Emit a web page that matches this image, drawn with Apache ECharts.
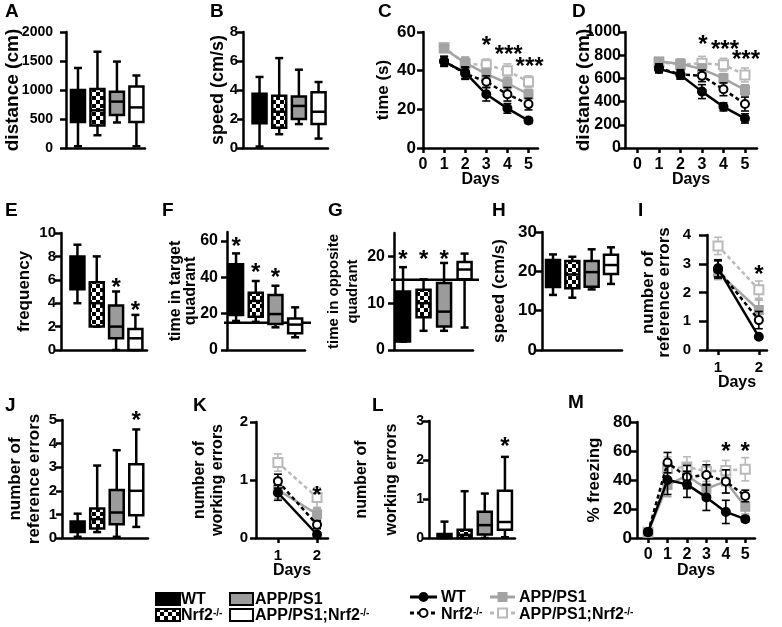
<!DOCTYPE html>
<html><head><meta charset="utf-8">
<script src="https://cdn.jsdelivr.net/npm/echarts@6/dist/echarts.min.js"></script>
<style>html,body{margin:0;padding:0;background:#fff}#c{width:782px;height:627px}</style>
</head><body><div id="c"></div>
<script>
const FONT = '"Liberation Sans", Arial, Helvetica, sans-serif';

// ---------------- data ----------------
const groups = ['WT', 'Nrf2-/-', 'APP/PS1', 'APP/PS1;Nrf2-/-'];
// box plots: [min, Q1, median, Q3, max] for each group
const boxA = [[30,450,750,1000,1380],[220,390,650,1017,1660],[440,570,800,970,1490],[30,450,700,1060,1250]];
const boxB = [[0.1,1.7,2.8,3.75,4.9],[0.95,1.4,2.5,3.6,6.2],[1.65,2.0,2.9,3.55,5.4],[0.65,1.65,2.5,3.85,4.55]];
const boxE = [[4,5.2,6.5,8,9],[2,2,4,5.8,8],[0,1,2,3.8,5],[0,0,1,1.8,3]];
const boxF = [[16,19.3,35,47.2,53.2],[15.5,18.3,27,31.5,38],[12.5,14.3,19.8,30.3,35.4],[7,9.2,14,17.4,23.5]];
const boxG = [[1.8,1.8,7,12.5,17.7],[4.1,7,10,12.9,15.1],[4.1,5,8.2,14.3,18.6],[4.8,15.1,17.2,18.8,20.6]];
const boxH = [[14,16,19.5,22.9,24.3],[13.3,15.7,19.2,22.6,23.7],[15.4,16.1,19.8,22.6,25.6],[16.8,19.3,21.6,24.2,26.1]];
const boxJ = [[0.05,0.25,0.45,0.7,1.03],[0.25,0.4,0.8,1.25,3.07],[0.05,0.58,1.08,2.03,3.72],[0.47,0.96,2.0,3.13,4.6]];
const boxL = [[0,0,0.05,0.1,0.42],[0,0,0.08,0.21,1.2],[0,0.09,0.33,0.67,1.14],[0.02,0.21,0.41,1.21,2.08]];
const chanceF = 15, chanceG = 15;

// line plots: mean and SEM, rows = groups
const days5 = [1,2,3,4,5];
const cMean = [[44.7,39,27.8,20.5,14.2],[45,38.5,34.3,27.8,22.7],[51.5,44,38.3,33.5,27.8],[52,43.5,43,40,34.3]];
const cErr  = [[2.5,3,3.5,2.5,1.5],[2.5,3,3,3.5,3],[2,3,3,3,2.5],[2,3.5,3,3.5,3]];
const dMean = [[682,630,486,355,255],[690,635,622,506,379],[746,726,680,601,500],[740,720,730,718,630]];
const dErr  = [[35,35,60,35,40],[35,40,50,55,60],[25,40,45,40,45],[25,45,60,55,60]];
const days2 = [1,2];
const iMean = [[2.84,0.46],[2.8,1.04],[2.7,1.39],[3.62,2.1]];
const iErr  = [[0.3,0.07],[0.3,0.3],[0.25,0.35],[0.3,0.3]];
const kMean = [[0.78,0.06],[0.98,0.23],[0.83,0.41],[1.3,0.7]];
const kErr  = [[0.13,0.04],[0.12,0.07],[0.15,0.1],[0.15,0.17]];
const days6 = [0,1,2,3,4,5];
const mMean = [[4.2,40,37,28,18,13],[4,52,42,43.5,39,29],[4,36.5,43,34,39,21.5],[4,48,49,46,46.5,47.4]];
const mErr  = [[2,10,9,9,8,2],[2,7,8,7,8,4],[2,8,8,8,8,5],[2,8,7,7,7,8]];

// significance marks [x, y, text]
const starsC = [[3,55,'*'],[4.06,50.3,'***'],[5.05,44.3,'***']];
const starsD = [[3.05,925,'*'],[4.07,882,'***'],[5.05,795,'***']];
const starsE = [[3,5.7,'*'],[4,3.7,'*']];
const starsF = [[1,59.4,'*'],[2,45,'*'],[3,42.4,'*']];
const starsG = [[1,20.2,'*'],[2,20.2,'*'],[3,20.2,'*']];
const starsI = [[2,2.78,'*']];
const starsJ = [[4,5.17,'*']];
const starsK = [[2,0.81,'*']];
const starsL = [[4,2.46,'*']];
const starsM = [[4,62.8,'*'],[5,62.8,'*']];

// tick labels
const ticksA = [0,500,1000,1500,2000];
const ticksB = [0,2,4,6,8];
const ticksC = [0,20,40,60];
const ticksD = [0,200,400,600,800,1000];
const ticksE = [0,2,4,6,8,10];
const ticksF = [0,20,40,60];
const ticksG = [0,10,20];
const ticksH = [0,10,20,30];
const ticksI = [0,1,2,3,4];
const ticksJ = [0,1,2,3,4,5];
const ticksK = [0,1,2];
const ticksL = [0,1,2,3];
const ticksM = [0,20,40,60,80];
const dayTicks6 = [0,1,2,3,4,5];
const dayTicks2 = [1,2];

// ---------------- styles ----------------
const pat = document.createElement('canvas');
pat.width = 8; pat.height = 8;
(function(){ const c = pat.getContext('2d'); c.fillStyle = '#000'; c.fillRect(0,0,8,8);
  c.fillStyle = '#fff'; c.fillRect(0,0,4,4); c.fillRect(4,4,4,4); })();
const boxFills = ['#000', {image: pat, repeat: 'repeat'}, '#9b9b9b', '#fff'];
const lineStyles = [
  {color:'#000', dash:'solid', symbol:'circle', fill:'#000', size:8},
  {color:'#000', dash:[4,3], symbol:'circle', fill:'#fff', size:8},
  {color:'#a3a3a3', dash:'solid', symbol:'rect', fill:'#a3a3a3', size:8},
  {color:'#b9b9b9', dash:[4,3], symbol:'rect', fill:'#fff', size:9}
];
const txt = o => Object.assign({color:'#000', fontWeight:'bold', fontFamily:FONT}, o);

const grids = [], xAxes = [], yAxes = [], series = [], graphics = [];

function boxRender(params, api) {
  const x = api.value(0), g = api.value(6);
  const pMin = api.coord([x, api.value(1)]), pQ1 = api.coord([x, api.value(2)]);
  const pMed = api.coord([x, api.value(3)]), pQ3 = api.coord([x, api.value(4)]);
  const pMax = api.coord([x, api.value(5)]);
  const cx = pMed[0], bw = 14, cw = 4, lw = 2.5;
  const st = () => ({stroke:'#000', lineWidth:lw});
  return {type:'group', children:[
    {type:'line', shape:{x1:cx,y1:pMax[1],x2:cx,y2:pQ3[1]}, style:st()},
    {type:'line', shape:{x1:cx,y1:pMin[1],x2:cx,y2:pQ1[1]}, style:st()},
    {type:'line', shape:{x1:cx-cw,y1:pMax[1],x2:cx+cw,y2:pMax[1]}, style:st()},
    {type:'line', shape:{x1:cx-cw,y1:pMin[1],x2:cx+cw,y2:pMin[1]}, style:st()},
    {type:'rect', shape:{x:cx-bw/2, y:pQ3[1], width:bw, height:Math.max(pQ1[1]-pQ3[1],0.5)},
      style:{fill:boxFills[g], stroke:'#000', lineWidth:lw}},
    {type:'line', shape:{x1:cx-bw/2,y1:pMed[1],x2:cx+bw/2,y2:pMed[1]}, style:st()}
  ]};
}
function errRender(color) {
  return function(params, api) {
    const x = api.value(0), y = api.value(1), e = api.value(2);
    const hi = api.coord([x, y+e]), lo = api.coord([x, y-e]), w = 4;
    const st = () => ({stroke:color, lineWidth:1.6});
    return {type:'group', children:[
      {type:'line', shape:{x1:hi[0],y1:hi[1],x2:lo[0],y2:lo[1]}, style:st()},
      {type:'line', shape:{x1:hi[0]-w,y1:hi[1],x2:hi[0]+w,y2:hi[1]}, style:st()},
      {type:'line', shape:{x1:lo[0]-w,y1:lo[1],x2:lo[0]+w,y2:lo[1]}, style:st()}
    ]};
  };
}
function refRender(params, api) {
  const p = api.coord([api.value(0), api.value(1)]);
  const cs = params.coordSys;
  return {type:'line', shape:{x1:cs.x-3, y1:p[1], x2:cs.x+cs.width+6, y2:p[1]}, style:{stroke:'#000', lineWidth:2.5}};
}
function starSeries(i, list) {
  return {type:'custom', xAxisIndex:i, yAxisIndex:i, silent:true, z:5,
    data: list.map(s => [s[0], s[1]]),
    renderItem: function(params, api) {
      const p = api.coord([api.value(0), api.value(1)]);
      return {type:'text', x:p[0], y:p[1]+5, style:{text:list[params.dataIndex][2], fontSize:24,
        fontWeight:'bold', fontFamily:FONT, fill:'#000', align:'center', verticalAlign:'middle'}};
    }};
}
function addGrid(r) {
  const i = grids.length;
  grids.push({left:r[0], top:r[1], width:r[2], height:r[3], containLabel:false, outerBoundsMode:'none'});
  return i;
}
function addY(i, ymax, ticks, name, o) {
  yAxes.push({gridIndex:i, type:'value', min:0, max:ymax,
    axisLine:{show:true, onZero:false, lineStyle:{color:'#000', width:2.5}},
    axisTick:{show:true, length:o.tl || 6, customValues:ticks, lineStyle:{color:'#000', width:2.5}},
    axisLabel:txt({fontSize:o.ls, margin:o.lm, customValues:ticks, formatter:v => String(v)}),
    splitLine:{show:false},
    name:name, nameLocation:'middle', nameRotate:90, nameGap:o.ng, nameMoveOverlap:false,
    nameTextStyle:txt({fontSize:o.ns, lineHeight:o.lh || o.ns})});
}
function boxPanel(r, xr, ymax, ticks, name, o, boxes, stars, ref) {
  const i = addGrid(r);
  xAxes.push({gridIndex:i, type:'value', min:xr[0], max:xr[1],
    axisLine:{show:true, onZero:false, lineStyle:{color:'#000', width:2.5}},
    axisTick:{show:false}, axisLabel:{show:false}, splitLine:{show:false}});
  addY(i, ymax, ticks, name, o);
  if (ref != null) series.push({type:'custom', xAxisIndex:i, yAxisIndex:i, silent:true, z:1,
    data:[[xr[0], ref]], renderItem:refRender});
  series.push({type:'custom', xAxisIndex:i, yAxisIndex:i, silent:true, z:2,
    data: boxes.map((b,k) => [k+1].concat(b, [k])), renderItem:boxRender});
  if (stars) series.push(starSeries(i, stars));
}
function linePanel(r, xr, xticks, ymax, ticks, name, o, days, means, errs, stars) {
  const i = addGrid(r);
  xAxes.push({gridIndex:i, type:'value', min:xr[0], max:xr[1],
    axisLine:{show:true, onZero:false, lineStyle:{color:'#000', width:2.5}},
    axisTick:{show:true, length:5, customValues:xticks, lineStyle:{color:'#000', width:2.5}},
    axisLabel:txt({fontSize:o.xls || 16, margin:o.xlm || 9, customValues:xticks, formatter:v => String(v)}),
    splitLine:{show:false},
    name:'Days', nameLocation:'middle', nameGap:o.xng || 23, nameMoveOverlap:false, nameTextStyle:txt({fontSize:16})});
  addY(i, ymax, ticks, name, o);
  [3,2,1,0].forEach((k, n) => {
    const s = lineStyles[k];
    series.push({type:'custom', xAxisIndex:i, yAxisIndex:i, silent:true, z:3+n*0.01,
      data: days.map((d,j) => [d, means[k][j], errs[k][j]]), renderItem:errRender(s.color)});
    series.push({type:'line', name:groups[k], xAxisIndex:i, yAxisIndex:i, silent:true, z:3+n*0.01,
      data: days.map((d,j) => [d, means[k][j]]), symbol:s.symbol, symbolSize:s.size, showSymbol:true,
      clip:false, lineStyle:{color:s.color, width:2.5, type:s.dash},
      itemStyle:{color:s.fill, borderColor:s.color, borderWidth:2}});
  });
  if (stars) series.push(starSeries(i, stars));
}

// ---------------- panels ----------------
boxPanel([66,32,79,116], [0.385,4.44], 2000, ticksA, 'distance (cm)', {ls:14, lm:13, ns:19, ng:44}, boxA);
boxPanel([243,32,85,116], [0.16,4.48], 8, ticksB, 'speed (cm/s)', {ls:15, lm:5, ns:18, ng:16}, boxB);
linePanel([423,32,115,116], [0,5.45], dayTicks6, 60, ticksC, 'time (s)', {ls:17, lm:7, ns:17, ng:31, xls:16, xlm:9, xng:24}, days5, cMean, cErr, starsC);
linePanel([625,32,132,116], [-0.58,5.56], dayTicks6, 1000, ticksD, 'distance (cm)', {ls:16, lm:4, ns:19, ng:32, xls:16, xlm:9, xng:24}, days5, dMean, dErr, starsD);

boxPanel([61,233,86,117], [0.15,4.6], 10, ticksE, 'frequency', {ls:15, lm:5, ns:17, ng:28}, boxE, starsE);
boxPanel([227,232,78,118], [0.54,4.5], 65, ticksF, 'time in target\nquadrant', {ls:16, lm:9, ns:16, ng:29, lh:15}, boxF, starsF, chanceF);
boxPanel([394,233,79,117], [0.56,4.41], 25, ticksG, 'time in opposite\nquadrant', {ls:16, lm:9, ns:15, ng:32, lh:19}, boxG, starsG, chanceG);
boxPanel([542,232,80,118], [0.43,4.57], 30, ticksH, 'speed (cm/s)', {ls:17, lm:5, ns:17, ng:34}, boxH);
linePanel([707,235,60,115], [0.73,2.2], dayTicks2, 4, ticksI, 'number of\nreference errors', {ls:15, lm:16, tl:8, ns:17, ng:35, lh:16, xls:15, xlm:10, xng:25}, days2, iMean, iErr, starsI);

boxPanel([62,420,86,118], [0.2,4.6], 5, ticksJ, 'number of\nreference errors', {ls:15, lm:5, ns:17, ng:18, lh:19}, boxJ, starsJ);
linePanel([256,422,72,116], [0.44,2.28], dayTicks2, 2, ticksK, 'number of\nworking errors', {ls:15, lm:8, ns:16, ng:29, lh:18, xls:15, xlm:10, xng:25}, days2, kMean, kErr, starsK);
boxPanel([429,421,86,117], [0.23,4.5], 3, ticksL, 'number of\nworking errors', {ls:14, lm:5, ns:16, ng:22, lh:30}, boxL, starsL);
linePanel([637,422,118,116], [-0.57,5.5], dayTicks6, 80, ticksM, '% freezing', {ls:17, lm:5, ns:17, ng:34, xls:16, xlm:9, xng:25}, days6, mMean, mErr, starsM);

// ---------------- panel letters ----------------
const letters = [['A',5,2],['B',210,2],['C',378,2],['D',572,2],['E',5,201],['F',162,201],['G',328,201],
  ['H',492,201],['I',638,201],['J',5,396],['K',193,396],['L',372,396],['M',568,393]];
letters.forEach(l => graphics.push({type:'text', x:l[1], y:l[2], silent:true,
  style:{text:l[0], fontSize:19, fontWeight:'bold', fontFamily:FONT, fill:'#000', align:'left', verticalAlign:'top'}}));

// ---------------- legends ----------------
const supRich = {s:{fontSize:10, fontWeight:'bold', fontFamily:FONT, fill:'#000', verticalAlign:'top'}};
function lgText(x, y, t) {
  graphics.push({type:'text', x:x, y:y, silent:true, style:{text:t, fontSize:16, fontWeight:'bold',
    fontFamily:FONT, fill:'#000', align:'left', verticalAlign:'middle', rich:supRich}});
}
function lgRect(x, y, w, h, fill) {
  graphics.push({type:'rect', silent:true, shape:{x:x, y:y, width:w, height:h}, style:{fill:fill, stroke:'#000', lineWidth:2}});
}
const legendLabels = ['WT', 'Nrf2{s|-/-}', 'APP/PS1', 'APP/PS1;Nrf2{s|-/-}'];
lgRect(156,593,24,12,boxFills[0]); lgText(181,600,legendLabels[0]);
lgRect(230,593,23,12,boxFills[2]); lgText(255,600,legendLabels[2]);
lgRect(156,609,24,12,boxFills[1]); lgText(181,616,legendLabels[1]);
lgRect(230,609,23,12,boxFills[3]); lgText(255,616,legendLabels[3]);

function lgLine(x1, x2, y, k) {
  const s = lineStyles[k];
  graphics.push({type:'line', silent:true, shape:{x1:x1, y1:y, x2:x2, y2:y},
    style:{stroke:s.color, lineWidth:3, lineDash: s.dash === 'solid' ? null : [4,3]}});
  const cx = (x1+x2)/2;
  if (s.symbol === 'circle') graphics.push({type:'circle', silent:true, shape:{cx:cx, cy:y, r:s.size/2},
    style:{fill:s.fill, stroke:s.color, lineWidth:2}});
  else graphics.push({type:'rect', silent:true, shape:{x:cx-s.size/2, y:y-s.size/2, width:s.size, height:s.size},
    style:{fill:s.fill, stroke:s.color, lineWidth:2}});
}
lgLine(410,437,597,0); lgText(441,598,legendLabels[0]);
lgLine(490,515,597,2); lgText(519,598,legendLabels[2]);
lgLine(410,437,613,1); lgText(441,615,legendLabels[1]);
lgLine(490,515,613,3); lgText(519,615,legendLabels[3]);

const chart = echarts.init(document.getElementById('c'));
chart.setOption({animation:false, backgroundColor:'#fff', grid:grids, xAxis:xAxes, yAxis:yAxes, series:series, graphic:graphics});
</script>
</body></html>
